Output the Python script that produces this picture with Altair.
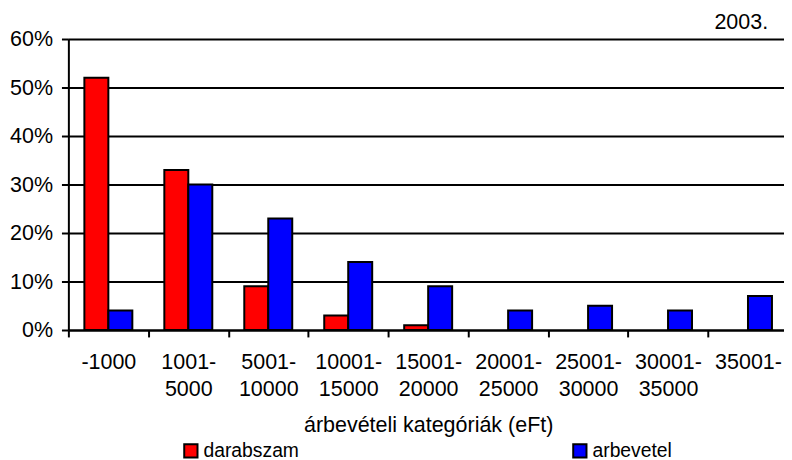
import altair as alt
import pandas as pd

categories = ["-1000", "1001-5000", "5001-10000", "10001-15000", "15001-20000",
              "20001-25000", "25001-30000", "30001-35000", "35001-"]
series_names = ["darabszam", "arbevetel"]
darabszam = [0.52, 0.33, 0.09, 0.03, 0.01, 0.0, 0.0, 0.0, 0.0]
arbevetel = [0.04, 0.30, 0.23, 0.14, 0.09, 0.04, 0.05, 0.04, 0.07]
y_ticks = [0, 0.1, 0.2, 0.3, 0.4, 0.5, 0.6]

rows = []
for c, d, a in zip(categories, darabszam, arbevetel):
    rows.append({"cat": c, "series": "darabszam", "value": d})
    rows.append({"cat": c, "series": "arbevetel", "value": a})
df = pd.DataFrame(rows)

FONT = "Liberation Sans"
FS = 21.7

label_expr = ("indexof(datum.label, '-') > 0 ? "
              "[slice(datum.label, 0, indexof(datum.label, '-') + 1), "
              "slice(datum.label, indexof(datum.label, '-') + 1)] : datum.label")

chart = alt.Chart(df).transform_filter(
    alt.datum.value > 0
).mark_bar(stroke="black", strokeWidth=2).encode(
    x=alt.X("cat:N", sort=categories,
            scale=alt.Scale(domain=categories, paddingInner=0, paddingOuter=0,
                            range=[0, 727]),
            axis=alt.Axis(title="árbevételi kategóriák (eFt)", labelAngle=0,
                          tickBand="extent", tickSize=7, tickColor="black",
                          tickWidth=2, domainColor="black", domainWidth=2,
                          labelFontSize=FS, labelLineHeight=27, labelPadding=15,
                          labelColor="black", labelFont=FONT, labelExpr=label_expr,
                          titleFontSize=FS, titleFontWeight="normal",
                          titleFont=FONT, titleColor="black", titlePadding=15)),
    xOffset=alt.XOffset("series:N", sort=series_names,
                        scale=alt.Scale(domain=series_names, paddingInner=0,
                                        paddingOuter=0.6667)),
    y=alt.Y("value:Q", scale=alt.Scale(domain=[0, 0.6]),
            axis=alt.Axis(values=y_ticks, format=".0%", title=None, grid=True,
                          gridColor="black", gridWidth=2, gridOpacity=1,
                          domainColor="black", domainWidth=2,
                          tickColor="black", tickWidth=2, tickSize=7,
                          labelFontSize=FS, labelPadding=9, labelColor="black",
                          labelFont=FONT)),
    color=alt.Color("series:N", sort=series_names,
                    scale=alt.Scale(domain=series_names, range=["#FF0000", "#0000FF"]),
                    legend=alt.Legend(orient="none", legendX=114, legendY=406,
                                      direction="horizontal", title=None,
                                      symbolType="square", symbolSize=180,
                                      symbolStrokeColor="black", symbolStrokeWidth=2,
                                      symbolOpacity=1, labelFontSize=19.5,
                                      labelFont=FONT, labelColor="black",
                                      labelOffset=3, columnPadding=273)),
).properties(
    width=723, height=294,
    autosize=alt.AutoSizeParams(type="none"),
    padding={"left": 61, "top": 29, "right": 0, "bottom": 129},
    title=alt.TitleParams("2003.", anchor="end", fontSize=FS, fontWeight="normal",
                          font=FONT, color="black", dx=-16, dy=9, frame="group"),
).configure_view(stroke=None).configure(background="white")

chart.save("out.html", embed_options={"renderer": "svg", "actions": False})
